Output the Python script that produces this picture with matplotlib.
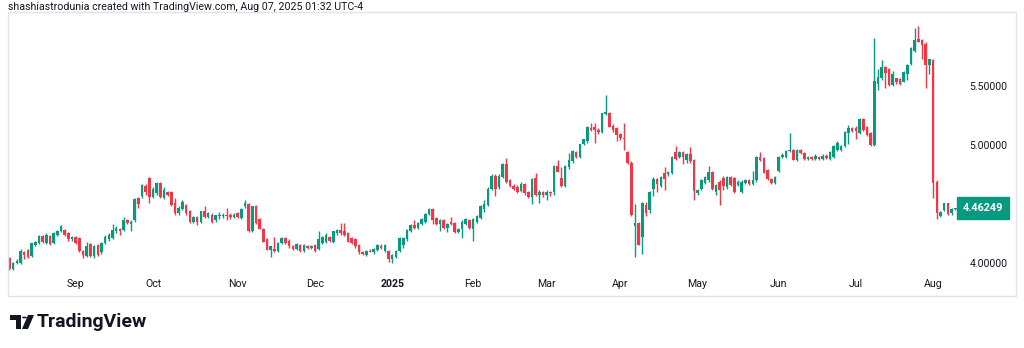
import numpy as np
import matplotlib
matplotlib.use('Agg')
import matplotlib.pyplot as plt
from matplotlib.patches import Rectangle, Polygon, Circle

# Daily OHLC, one entry per session (Aug 2024 -> Aug 07, 2025)
opens = [
    4.04, 3.95, 4.00, 4.00, 4.09, 4.11, 4.06, 4.15, 4.17, 4.23, 4.17, 4.23, 4.17, 4.24, 4.27, 4.28, 4.25, 4.20, 4.22,
    4.21, 4.10, 4.06, 4.16, 4.06, 4.15, 4.09, 4.17, 4.20, 4.21, 4.27, 4.29, 4.28, 4.36, 4.33, 4.36, 4.55, 4.57, 4.65, 4.72, 4.56, 4.59,
    4.68, 4.55, 4.60, 4.60, 4.51, 4.42, 4.46, 4.49, 4.44, 4.35, 4.39, 4.35, 4.44, 4.39, 4.41, 4.36, 4.40, 4.40, 4.41, 4.41, 4.39, 4.42,
    4.38, 4.48, 4.50, 4.27, 4.48, 4.37, 4.29, 4.20, 4.11, 4.12, 4.10, 4.17, 4.21, 4.19, 4.14, 4.12, 4.15, 4.10, 4.14, 4.125, 4.15, 4.12,
    4.17, 4.18, 4.22, 4.18, 4.25, 4.28, 4.27, 4.25, 4.21, 4.20, 4.15, 4.09, 4.07, 4.105, 4.09, 4.11, 4.14, 4.10, 4.10, 4.03, 4.05, 4.10,
    4.15, 4.20, 4.27, 4.32, 4.30, 4.33, 4.35, 4.415, 4.46, 4.38, 4.33, 4.36, 4.30, 4.35, 4.34, 4.265, 4.285, 4.33, 4.36, 4.29, 4.35, 4.38,
    4.46, 4.49, 4.63, 4.74, 4.64, 4.73, 4.84, 4.70, 4.65, 4.64, 4.61, 4.67, 4.60, 4.56, 4.72, 4.58, 4.60, 4.58, 4.60, 4.60, 4.82,
    4.72, 4.65, 4.81, 4.86, 4.94, 4.90, 5.01, 5.03, 5.14, 5.15, 5.13, 5.11, 5.26, 5.27, 5.16, 5.14, 5.09, 5.06, 4.94, 4.85, 4.31, 4.34,
    4.22, 4.49, 4.45, 4.63, 4.71, 4.65, 4.76, 4.75, 4.765, 4.94, 4.90, 4.94, 4.87, 4.92, 4.87, 4.59, 4.63, 4.68, 4.70, 4.77, 4.60,
    4.69, 4.72, 4.64, 4.73, 4.72, 4.66, 4.60, 4.68, 4.70, 4.67, 4.70, 4.90, 4.89, 4.79, 4.71, 4.68, 4.78, 4.90, 4.90, 4.95, 4.96, 4.87,
    4.96, 4.935, 4.88, 4.90, 4.88, 4.90, 4.88, 4.91, 4.88, 4.90, 4.96, 4.96, 4.99, 5.10, 5.14, 5.14, 5.10, 5.22, 5.15, 5.10, 5.00, 5.52,
    5.565, 5.66, 5.64, 5.51, 5.565, 5.56, 5.535, 5.60, 5.69, 5.80, 5.895, 5.89, 5.86, 5.68, 5.72, 4.69, 4.40, 4.45, 4.505, 4.42, 4.455,
]
highs = [
    4.05, 4.01, 4.03, 4.12, 4.10, 4.12, 4.17, 4.19, 4.24, 4.24, 4.25, 4.24, 4.26, 4.28, 4.32, 4.29, 4.26, 4.23, 4.23,
    4.22, 4.11, 4.18, 4.17, 4.15, 4.16, 4.18, 4.24, 4.25, 4.33, 4.31, 4.30, 4.39, 4.37, 4.36, 4.55, 4.56, 4.67, 4.67, 4.73, 4.64, 4.69,
    4.69, 4.64, 4.61, 4.61, 4.55, 4.48, 4.53, 4.50, 4.45, 4.40, 4.40, 4.44, 4.48, 4.43, 4.42, 4.41, 4.43, 4.42, 4.47, 4.42, 4.42, 4.43,
    4.47, 4.53, 4.51, 4.48, 4.49, 4.38, 4.30, 4.21, 4.14, 4.22, 4.18, 4.22, 4.22, 4.20, 4.15, 4.17, 4.16, 4.16, 4.15, 4.15, 4.16, 4.27,
    4.23, 4.25, 4.23, 4.27, 4.29, 4.34, 4.34, 4.26, 4.22, 4.21, 4.16, 4.10, 4.11, 4.12, 4.13, 4.16, 4.16, 4.16, 4.11, 4.08, 4.11, 4.22,
    4.22, 4.29, 4.33, 4.36, 4.35, 4.38, 4.42, 4.47, 4.47, 4.39, 4.37, 4.37, 4.34, 4.39, 4.35, 4.30, 4.36, 4.38, 4.37, 4.38, 4.41, 4.49,
    4.53, 4.64, 4.75, 4.75, 4.75, 4.85, 4.89, 4.71, 4.67, 4.66, 4.69, 4.68, 4.61, 4.72, 4.76, 4.62, 4.61, 4.62, 4.61, 4.83, 4.87,
    4.81, 4.83, 4.93, 4.96, 4.95, 5.01, 5.05, 5.16, 5.19, 5.19, 5.14, 5.27, 5.42, 5.28, 5.18, 5.15, 5.10, 5.19, 4.95, 4.86, 4.50, 4.35,
    4.52, 4.52, 4.61, 4.73, 4.72, 4.74, 4.81, 4.78, 4.91, 4.99, 4.95, 4.95, 4.93, 4.98, 4.88, 4.63, 4.71, 4.74, 4.82, 4.78, 4.67,
    4.70, 4.74, 4.74, 4.74, 4.73, 4.70, 4.70, 4.71, 4.71, 4.78, 4.91, 4.94, 4.90, 4.80, 4.72, 4.74, 4.91, 4.93, 4.96, 5.10, 4.97, 4.97,
    4.97, 4.94, 4.91, 4.91, 4.92, 4.91, 4.92, 4.92, 4.95, 5.00, 5.03, 5.00, 5.12, 5.17, 5.15, 5.16, 5.23, 5.23, 5.16, 5.11, 5.91, 5.64,
    5.72, 5.67, 5.65, 5.63, 5.57, 5.57, 5.63, 5.69, 5.83, 5.99, 6.01, 5.90, 5.87, 5.73, 5.73, 4.70, 4.44, 4.51, 4.51, 4.47, 4.47,
]
lows = [
    3.94, 3.94, 3.99, 3.99, 4.03, 4.04, 4.05, 4.14, 4.16, 4.17, 4.16, 4.15, 4.16, 4.23, 4.26, 4.23, 4.19, 4.19, 4.16,
    4.09, 4.04, 4.05, 4.05, 4.04, 4.06, 4.08, 4.16, 4.19, 4.20, 4.25, 4.24, 4.27, 4.33, 4.27, 4.35, 4.47, 4.55, 4.58, 4.51, 4.55, 4.58,
    4.55, 4.54, 4.57, 4.48, 4.41, 4.41, 4.45, 4.41, 4.34, 4.34, 4.32, 4.34, 4.38, 4.38, 4.34, 4.35, 4.37, 4.38, 4.36, 4.37, 4.38, 4.38,
    4.37, 4.47, 4.26, 4.26, 4.33, 4.29, 4.18, 4.11, 4.05, 4.09, 4.09, 4.16, 4.16, 4.13, 4.11, 4.11, 4.09, 4.09, 4.12, 4.12, 4.09, 4.11,
    4.16, 4.17, 4.18, 4.17, 4.24, 4.24, 4.23, 4.18, 4.16, 4.13, 4.08, 4.07, 4.06, 4.09, 4.08, 4.10, 4.12, 4.09, 4.01, 4.00, 4.04, 4.09,
    4.13, 4.19, 4.26, 4.29, 4.29, 4.32, 4.34, 4.41, 4.33, 4.32, 4.27, 4.29, 4.26, 4.32, 4.25, 4.25, 4.21, 4.32, 4.29, 4.19, 4.34, 4.37,
    4.43, 4.48, 4.62, 4.57, 4.63, 4.72, 4.68, 4.64, 4.62, 4.59, 4.60, 4.58, 4.55, 4.50, 4.57, 4.51, 4.56, 4.53, 4.57, 4.58, 4.77,
    4.64, 4.64, 4.80, 4.85, 4.89, 4.89, 5.00, 5.02, 5.12, 5.02, 5.09, 5.10, 5.25, 5.15, 5.11, 5.03, 5.04, 4.96, 4.84, 4.40, 4.05, 4.15,
    4.08, 4.40, 4.42, 4.57, 4.60, 4.64, 4.62, 4.74, 4.75, 4.87, 4.89, 4.84, 4.85, 4.85, 4.53, 4.58, 4.62, 4.67, 4.69, 4.62, 4.58,
    4.49, 4.62, 4.63, 4.65, 4.59, 4.65, 4.59, 4.67, 4.66, 4.66, 4.69, 4.86, 4.76, 4.70, 4.67, 4.67, 4.77, 4.89, 4.89, 4.94, 4.87, 4.86,
    4.92, 4.87, 4.87, 4.87, 4.87, 4.87, 4.87, 4.88, 4.87, 4.89, 4.95, 4.95, 4.98, 5.01, 5.11, 5.05, 5.09, 5.12, 5.08, 4.99, 4.99, 5.47,
    5.55, 5.48, 5.50, 5.50, 5.52, 5.51, 5.53, 5.55, 5.68, 5.79, 5.87, 5.73, 5.48, 5.60, 4.55, 4.37, 4.39, 4.44, 4.41, 4.41, 4.45,
]
closes = [
    3.95, 4.00, 4.02, 4.10, 4.07, 4.05, 4.17, 4.18, 4.23, 4.18, 4.24, 4.16, 4.25, 4.27, 4.31, 4.24, 4.20, 4.22, 4.17,
    4.10, 4.07, 4.14, 4.06, 4.14, 4.07, 4.17, 4.22, 4.24, 4.28, 4.30, 4.27, 4.36, 4.34, 4.35, 4.54, 4.50, 4.66, 4.60, 4.56, 4.63, 4.68,
    4.56, 4.62, 4.58, 4.49, 4.42, 4.47, 4.52, 4.42, 4.35, 4.39, 4.35, 4.44, 4.39, 4.42, 4.35, 4.41, 4.41, 4.41, 4.40, 4.39, 4.41, 4.39,
    4.46, 4.51, 4.27, 4.48, 4.34, 4.29, 4.18, 4.11, 4.14, 4.10, 4.17, 4.21, 4.17, 4.14, 4.12, 4.16, 4.10, 4.155, 4.125, 4.145, 4.10, 4.20,
    4.22, 4.24, 4.19, 4.27, 4.28, 4.25, 4.24, 4.18, 4.17, 4.14, 4.09, 4.08, 4.10, 4.095, 4.12, 4.15, 4.13, 4.15, 4.03, 4.07, 4.10, 4.21,
    4.21, 4.28, 4.32, 4.30, 4.34, 4.37, 4.415, 4.46, 4.36, 4.33, 4.36, 4.30, 4.33, 4.33, 4.265, 4.29, 4.35, 4.37, 4.30, 4.37, 4.40, 4.48,
    4.50, 4.63, 4.74, 4.63, 4.74, 4.84, 4.69, 4.65, 4.63, 4.60, 4.67, 4.59, 4.56, 4.71, 4.58, 4.60, 4.58, 4.60, 4.59, 4.82, 4.77,
    4.65, 4.82, 4.87, 4.95, 4.90, 5.01, 5.05, 5.155, 5.13, 5.13, 5.11, 5.27, 5.28, 5.155, 5.13, 5.085, 5.06, 5.05, 4.845, 4.41, 4.34, 4.15,
    4.51, 4.42, 4.60, 4.71, 4.67, 4.73, 4.71, 4.77, 4.90, 4.88, 4.94, 4.90, 4.92, 4.86, 4.61, 4.62, 4.70, 4.73, 4.77, 4.625, 4.66,
    4.62, 4.65, 4.73, 4.66, 4.60, 4.69, 4.69, 4.70, 4.67, 4.70, 4.90, 4.87, 4.765, 4.71, 4.68, 4.73, 4.90, 4.915, 4.95, 4.96, 4.87, 4.96,
    4.93, 4.88, 4.90, 4.88, 4.91, 4.88, 4.91, 4.89, 4.94, 4.99, 5.02, 4.99, 5.11, 5.14, 5.12, 5.12, 5.22, 5.125, 5.085, 5.00, 5.54, 5.58,
    5.66, 5.61, 5.51, 5.60, 5.535, 5.52, 5.62, 5.68, 5.82, 5.89, 5.875, 5.85, 5.68, 5.725, 4.675, 4.42, 4.43, 4.505, 4.415, 4.46, 4.46249,
]

# first session of each month (bar index) and its label
month_labels = ['Sep', 'Oct', 'Nov', 'Dec', '2025', 'Feb', 'Mar', 'Apr', 'May', 'Jun', 'Jul', 'Aug']
month_first_bar = [18, 39, 62, 83, 104, 126, 146, 166, 187, 209, 230, 251]
# 4.50000 is covered by the last price tag in the original
price_ticks = [4.0, 5.0, 5.5]
last_price = 4.46249

header = 'shashiastrodunia created with TradingView.com, Aug 07, 2025 01:32 UTC-4'

UP = '#089981'
DOWN = '#F23645'
TXT = '#131722'

plt.rcParams['font.family'] = ['Roboto', 'DejaVu Sans']

W, H = 1024, 348
fig = plt.figure(figsize=(W / 100, H / 100), dpi=100)
fig.patch.set_facecolor('white')

# pane: x 8..960 px, y 12..296 px (top-down)
ax = fig.add_axes([8 / W, 1 - 296 / H, (960 - 8) / W, (296 - 12) / H])

o = np.array(opens)
h = np.array(highs)
l = np.array(lows)
c = np.array(closes)
n = len(c)
x = np.arange(n)
colors = np.where(c >= o, UP, DOWN)

ax.vlines(x, l, h, colors=colors, linewidth=1.0)
body_lo = np.minimum(o, c)
body_h = np.maximum(np.abs(c - o), 0.009)
ax.bar(x, body_h, bottom=body_lo, width=0.7, color=colors, linewidth=0)

ax.set_xlim(-0.4, 258.3)
ax.set_ylim(3.720, 6.127)

for sp in ax.spines.values():
    sp.set_visible(False)

ax.set_xticks([])
ax.yaxis.tick_right()
ax.set_yticks(price_ticks)
ax.set_yticklabels(['%.5f' % v for v in price_ticks])
ax.tick_params(axis='y', length=0, pad=7, labelsize=7.6, labelcolor=TXT)

# month labels sit inside the pane, near the bottom
for lab, b in zip(month_labels, month_first_bar):
    ax.text(b, 0.042, lab, transform=ax.get_xaxis_transform(), ha='center', va='center',
            fontsize=7.6, color=TXT, fontweight='bold' if lab == '2025' else 'normal')

# last price tag
ax.text(1.0 + 3 / 952, last_price, '%.5f' % last_price, transform=ax.get_yaxis_transform(),
        ha='left', va='center', fontsize=7.8, color='white', fontweight='bold', zorder=5,
        bbox=dict(boxstyle='square,pad=0.55', facecolor=UP, edgecolor=UP))

# pane border
fig.add_artist(Rectangle((8 / W, 1 - 296 / H), (1016 - 8) / W, (296 - 12) / H, fill=False,
                         edgecolor='#e0e3eb', linewidth=1, transform=fig.transFigure))

fig.text(8 / W, 1 - 7 / H, header, ha='left', va='center', fontsize=7.7, color=TXT)

# TradingView logo
def fx(px):
    return px / W


def fy(py):
    return 1 - py / H


fig.add_artist(Polygon([(fx(10), fy(315)), (fx(21), fy(315)), (fx(21), fy(329)), (fx(16), fy(329)),
                        (fx(16), fy(320)), (fx(10), fy(320))], closed=True, facecolor=TXT,
                       edgecolor='none', transform=fig.transFigure))
fig.add_artist(Circle((fx(24.5), fy(317.5)), 2.5 / W, facecolor=TXT, edgecolor='none',
                      transform=fig.transFigure))
fig.add_artist(Polygon([(fx(28), fy(315)), (fx(34), fy(315)), (fx(28), fy(329)), (fx(22), fy(329))],
                       closed=True, facecolor=TXT, edgecolor='none', transform=fig.transFigure))
fig.text(fx(37), fy(322), 'TradingView', ha='left', va='center', fontsize=14, fontweight='bold', color=TXT)

fig.savefig('out.png', dpi=100)
